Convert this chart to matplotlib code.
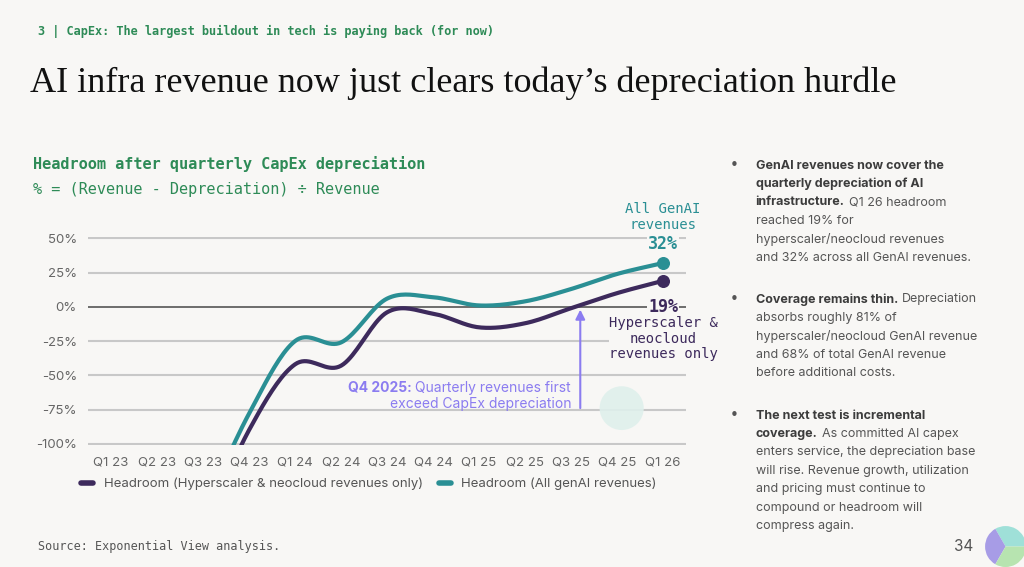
import numpy as np
import matplotlib.pyplot as plt
from matplotlib.patches import Wedge, Ellipse

quarters = ['Q1 23', 'Q2 23', 'Q3 23', 'Q4 23', 'Q1 24', 'Q2 24', 'Q3 24',
            'Q4 24', 'Q1 25', 'Q2 25', 'Q3 25', 'Q4 25', 'Q1 26']
hyper = [np.nan, np.nan, -165, -90, -42, -43, -4, -5, -15, -12, -1, 10, 19]
allgen = [np.nan, np.nan, -150, -78, -25, -26, 6, 7, 1, 4, 13, 24, 32]
yticks = [-100, -75, -50, -25, 0, 25, 50]

BG = '#f8f7f5'
PURPLE = '#3d2a5c'
TEAL = '#2a8f94'
GREEN = '#2e8b57'
ARROW = '#8b7cf0'
GREY = '#555555'


def smooth(xs, ys, n=20):
    # Catmull-Rom spline through the points
    xs = np.asarray(xs, float)
    ys = np.asarray(ys, float)
    px = np.concatenate([[2 * xs[0] - xs[1]], xs, [2 * xs[-1] - xs[-2]]])
    py = np.concatenate([[2 * ys[0] - ys[1]], ys, [2 * ys[-1] - ys[-2]]])
    ox, oy = [], []
    t = np.linspace(0, 1, n, endpoint=False)
    for i in range(1, len(px) - 2):
        for p, o in ((px, ox), (py, oy)):
            p0, p1, p2, p3 = p[i - 1:i + 3]
            o.extend(0.5 * (2 * p1 + (-p0 + p2) * t + (2 * p0 - 5 * p1 + 4 * p2 - p3) * t ** 2
                            + (-p0 + 3 * p1 - 3 * p2 + p3) * t ** 3))
    ox.append(xs[-1])
    oy.append(ys[-1])
    return np.array(ox), np.array(oy)


fig = plt.figure(figsize=(10.24, 5.67), dpi=100, facecolor=BG)
ax = fig.add_axes([0.086, 0.215, 0.584, 0.367], facecolor=BG)
r = fig.canvas.get_renderer()

x = np.arange(len(quarters))
for series, color, label in ((hyper, PURPLE, 'Headroom (Hyperscaler & neocloud revenues only)'),
                             (allgen, TEAL, 'Headroom (All genAI revenues)')):
    m = ~np.isnan(series)
    sx, sy = smooth(x[m], np.array(series)[m])
    ax.plot(sx, sy, color=color, lw=3, label=label, solid_capstyle='round')
    ax.scatter([x[-1]], [series[-1]], color=color, s=70, zorder=5)

ax.set_xlim(-0.5, 12.5)
ax.set_ylim(-101, 51)
ax.set_yticks(yticks)
ax.set_yticklabels([f'{v}%' for v in yticks])
ax.set_xticks(x)
ax.set_xticklabels(quarters)
for v in yticks:
    ax.axhline(v, color='#555555' if v == 0 else '#c8c8c8', lw=1.2 if v == 0 else 1.5, zorder=0)
for s in ax.spines.values():
    s.set_visible(False)
ax.tick_params(length=0, colors='#666666', labelsize=9.5, pad=8)
for lab in ax.get_xticklabels() + ax.get_yticklabels():
    lab.set_family('Inter')

# watermark
for ang0, c in ((90, '#dff0ec'), (210, '#e6e4f5'), (330, '#e8f3dc')):
    ax.add_patch(Ellipse((11.1, -74), 0.96, 32, color=c, lw=0, alpha=0.9))
    break

# annotation arrow
ax.annotate('', xy=(10.2, 0), xytext=(10.2, -76), color=ARROW,
            arrowprops=dict(arrowstyle='-|>', color=ARROW, lw=1.5, mutation_scale=14))
tx = 10.0
t1 = ax.text(tx, -59, ' Quarterly revenues first', color=ARROW, fontsize=10, family='Inter',
             ha='right', va='center')
w1 = t1.get_window_extent(r).width
bx = ax.transData.inverted().transform(ax.transData.transform((tx, 0)) - (w1, 0))[0]
ax.text(bx, -59, 'Q4 2025:', color=ARROW, fontsize=10, family='Inter', weight='bold',
        ha='right', va='center')
ax.text(tx, -71, 'exceed CapEx depreciation', color=ARROW, fontsize=10, family='Inter',
        ha='right', va='center')

mono = 'DejaVu Sans Mono'
ax.text(12, 55, 'All GenAI\nrevenues', color=TEAL, fontsize=10, family=mono, ha='center', va='bottom',
        linespacing=1.1)
ax.text(12, 46, '32%', color=TEAL, fontsize=12, family=mono, weight='bold', ha='center', va='center',
        bbox=dict(facecolor=BG, edgecolor='none', pad=1))
ax.text(12, 0, '19%', color=PURPLE, fontsize=12, family=mono, weight='bold', ha='center', va='center',
        bbox=dict(facecolor=BG, edgecolor='none', pad=1))
ax.text(12, -7, 'Hyperscaler &\nneocloud\nrevenues only', color=PURPLE, fontsize=10, family=mono,
        ha='center', va='top', linespacing=1.1,
        bbox=dict(facecolor=BG, edgecolor='none', pad=0))

leg = ax.legend(loc='upper center', bbox_to_anchor=(0.47, -0.1), ncol=2, frameon=False,
                prop={'family': 'Inter', 'size': 9.5}, handlelength=0.9, columnspacing=1.2)
for h in leg.get_lines():
    h.set_linewidth(4)
for t in leg.get_texts():
    t.set_color(GREY)

# header texts
fig.text(0.037, 0.944, '3 | CapEx: The largest buildout in tech is paying back (for now)',
         color=GREEN, fontsize=8.6, family=mono, weight='bold', va='center')
fig.text(0.029, 0.853, 'AI infra revenue now just clears today\u2019s depreciation hurdle',
         color='#111111', fontsize=26, family='Liberation Serif', va='center')
fig.text(0.032, 0.71, 'Headroom after quarterly CapEx depreciation', color=GREEN, fontsize=11,
         family=mono, weight='bold', va='center')
fig.text(0.032, 0.665, '% = (Revenue - Depreciation) \u00f7 Revenue', color=GREEN, fontsize=11,
         family=mono, va='center')
fig.text(0.037, 0.036, 'Source: Exponential View analysis.', color=GREY, fontsize=8.5, family=mono,
         va='center')
fig.text(0.932, 0.036, '34', color=GREY, fontsize=11, family='Inter', va='center')
lax = fig.add_axes([0.962, 0.0, 0.04, 0.0722])
lax.set_xlim(-1, 1)
lax.set_ylim(-1, 1)
lax.axis('off')
for a0, a1, c in ((0, 120, '#9fe0d8'), (120, 240, '#a79ce6'), (240, 360, '#b7e4b0')):
    lax.add_patch(Wedge((0, 0), 1, a0, a1, color=c, lw=0))

# right column
bullets = [
    (0.708, ['GenAI revenues now cover the', 'quarterly depreciation of AI', 'infrastructure.'],
     ['Q1 26 headroom', 'reached 19% for', 'hyperscaler/neocloud revenues',
      'and 32% across all GenAI revenues.']),
    (0.472, ['Coverage remains thin.'],
     ['Depreciation', 'absorbs roughly 81% of', 'hyperscaler/neocloud GenAI revenue',
      'and 68% of total GenAI revenue', 'before additional costs.']),
    (0.267, ['The next test is incremental', 'coverage.'],
     ['As committed AI capex', 'enters service, the depreciation base', 'will rise. Revenue growth, utilization',
      'and pricing must continue to', 'compound or headroom will', 'compress again.']),
]
dy = 0.0325
for y0, bold, normal in bullets:
    fig.text(0.713, y0, '\u2022', color=GREY, fontsize=11, va='center')
    lines = [(b, True) for b in bold[:-1]] + [(bold[-1], 'mix')]
    lines += [(n, False) for n in normal[1:]]
    y = y0
    for txt, kind in lines:
        if kind == 'mix':
            t = fig.text(0.738, y, txt, color='#3c3c3c', fontsize=9, family='Inter', weight='bold',
                         va='center')
            w = t.get_window_extent(r).width / fig.bbox.width
            fig.text(0.738 + w + 0.004, y, normal[0], color=GREY, fontsize=9, family='Inter', va='center')
        else:
            fig.text(0.738, y, txt, color='#3c3c3c' if kind else GREY, fontsize=9, family='Inter',
                     weight='bold' if kind else 'normal', va='center')
        y -= dy

fig.savefig('out.png', dpi=100, facecolor=BG)
